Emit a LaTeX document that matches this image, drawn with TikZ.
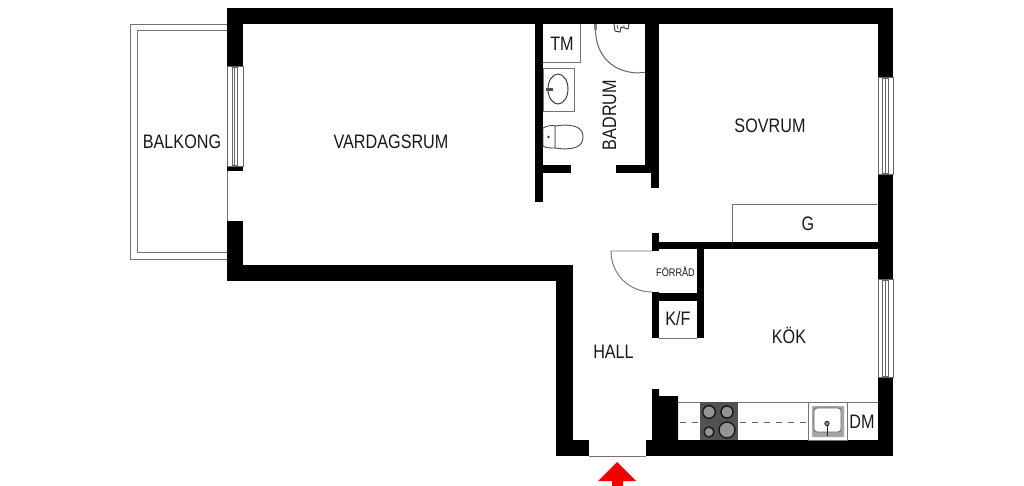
\documentclass[tikz,border=0pt]{standalone}
\usepackage{fontspec}
\setmainfont[FakeStretch=0.83]{Liberation Sans}
\tikzset{
  wall/.style={fill=black,draw=none},
  thin line/.style={draw=black!55,line width=0.9pt},
  fine line/.style={draw=black!60,line width=0.6pt},
  lbl/.style={inner sep=0pt,text=black!90,font=\fontsize{19.5}{19.5}\selectfont},
  counter hob/.style={draw=black!90,line width=1.4pt,fill=black!42},
}
\begin{document}
\begin{tikzpicture}[x=1pt,y=-1pt]
\useasboundingbox (0,0) rectangle (1024,486);
\fill[white] (0,0) rectangle (1024,486);
% balcony
\draw[thin line] (227,24) -- (130,24) -- (130,259) -- (227,259);
\draw[thin line] (227,30.5) -- (137,30.5) -- (137,252) -- (227,252);
% outer and main walls
\fill[wall] (227,8) rectangle (893,24);
\fill[wall] (227,8) rectangle (243,66);
\fill[wall] (227,166) rectangle (243,171);
\fill[wall] (227,221) rectangle (243,281);
\fill[wall] (227,265) rectangle (573,281);
\fill[wall] (556,265) rectangle (573,456);
\fill[wall] (556,440) rectangle (589,456);
\fill[wall] (645.5,440) rectangle (893,456);
\fill[wall] (652,389) -- (659,389) -- (659,396) -- (678,396) -- (678,440) -- (652,440) -- cycle;
\fill[wall] (877.5,8) rectangle (893,77);
\fill[wall] (877.5,174) rectangle (893,279);
\fill[wall] (877.5,377) rectangle (893,456);
% inner walls
\fill[wall] (652,242) rectangle (878,249);
\fill[wall] (652,233) rectangle (659,251);
\fill[wall] (697,242) rectangle (704,338);
\fill[wall] (652,293) rectangle (704,301);
\fill[wall] (652,292) rectangle (659,338);
% bathroom walls
\fill[wall] (535,24) rectangle (543,202);
\fill[wall] (645,24) rectangle (659,165);
\fill[wall] (651,165) rectangle (659,188);
\fill[wall] (543,165) rectangle (571,173);
\fill[wall] (616,165) rectangle (651,173);
% openings
\draw[thin line] (227,171) -- (227,221);
\draw[thin line] (589,456) -- (645.5,456);
\draw[thin line] (659,338) -- (697,338);
% windows
\foreach \ya/\yb in {66/166}{
  \draw[fine line] (227.5,\ya) rectangle (243,\yb);
  \draw[fine line] (232,\ya+1) rectangle (237.5,\yb-1);
  \draw[fine line] (234.7,\ya+1) -- (234.7,\yb-1);
}
\foreach \ya/\yb in {77/174,279/377}{
  \draw[fine line] (878,\ya) rectangle (893,\yb);
  \draw[fine line] (882.5,\ya+1) rectangle (888,\yb-1);
  \draw[fine line] (885.2,\ya+1) -- (885.2,\yb-1);
}
% wardrobe
\draw[thin line] (877,204) -- (732,204) -- (732,242);
% storage door
\draw[thin line] (652,251) -- (611,251) .. controls (611,274) and (629,292) .. (652,292);
% bathroom fittings
\draw[thin line] (543,62) -- (580,62) -- (580,24);
\draw[thin line] (543.5,68) rectangle (574,111);
\draw[draw=black!75,line width=1pt] (558,89) ellipse[x radius=10,y radius=15];
\fill[black!70] (546,88) rectangle (553,91);
\fill[black!70] (551,89.5) circle[radius=1.5];
\draw[draw=black!70,line width=0.9pt,fill=white] (555,126) .. controls (575,123) and (583,128) .. (583,137) .. controls (583,146) and (575,151) .. (555,148) -- cycle;
\draw[draw=black!70,line width=0.9pt,fill=white] (543,128) .. controls (548,125) and (555,125) .. (555,126) -- (555,148) .. controls (550,148) and (546,148) .. (543,146) -- cycle;
\fill[black!80] (548.5,137) circle[radius=1.3];
\draw[draw=black!60,line width=1pt] (595.5,29) .. controls (595.5,55) and (612,73) .. (640,73);
\draw[draw=black!60,line width=1pt] (640,73) -- (645,73);
\fill[black!50] (594,24) rectangle (597,30);
\draw[draw=black!75,line width=1pt] (614,24) -- (615,31) -- (620,32) -- (621,27) -- (628,29) -- (629,24);
\draw[draw=black!75,line width=0.8pt] (617,25) -- (618,29) (624,25) -- (624,28);
% kitchen counter
\draw[thin line] (678,402) -- (877.5,402);
\draw[fine line,dash pattern=on 6pt off 6pt] (680,422) -- (700,422);
\draw[fine line,dash pattern=on 6pt off 6pt] (740,422) -- (808,422);
% hob
\fill[black!68] (700,402) rectangle (738,440);
\foreach \cx/\cy/\r in {709/412/6.3,727/412/6,709/432/5,727/430/8}{
  \draw[counter hob] (\cx,\cy) circle[radius=\r];
}
% kitchen sink
\draw[thin line] (808.5,402) rectangle (847,440);
\fill[black!35,rounded corners=1pt] (812,406) rectangle (844,437);
\draw[draw=black!60,line width=0.8pt,fill=white,rounded corners=3pt] (814,408) rectangle (841,432);
\draw[black!85,line width=1pt] (827,425) -- (827,436);
\draw[black!85,line width=0.8pt,fill=black!45] (827,423.5) circle[radius=2.2];
% entrance arrow
\fill[red!95!black] (617,462) -- (636,481) -- (623,481) -- (623,486) -- (612,486) -- (612,481) -- (598,481) -- cycle;
% labels
\node[lbl] (balkong) at (182,141.5) {BALKONG};
\node[lbl] (vardagsrum) at (391,142) {VARDAGSRUM};
\node[lbl] (tm) at (562,43.5) {TM};
\node[lbl,rotate=90] (badrum) at (609.5,115) {BADRUM};
\node[lbl] (sovrum) at (770,126) {SOVRUM};
\node[lbl] (g) at (808,224) {G};
\node[lbl] (hall) at (613.5,352) {HALL};
\node[lbl,font=\fontsize{11}{11}\selectfont] (forrad) at (675.5,272) {FÖRRÅD};
\node[lbl] (kf) at (678,319) {K/F};
\node[lbl] (kok) at (789,335) {KÖK};
\node[lbl] (dm) at (862,422) {DM};
\end{tikzpicture}
\end{document}
